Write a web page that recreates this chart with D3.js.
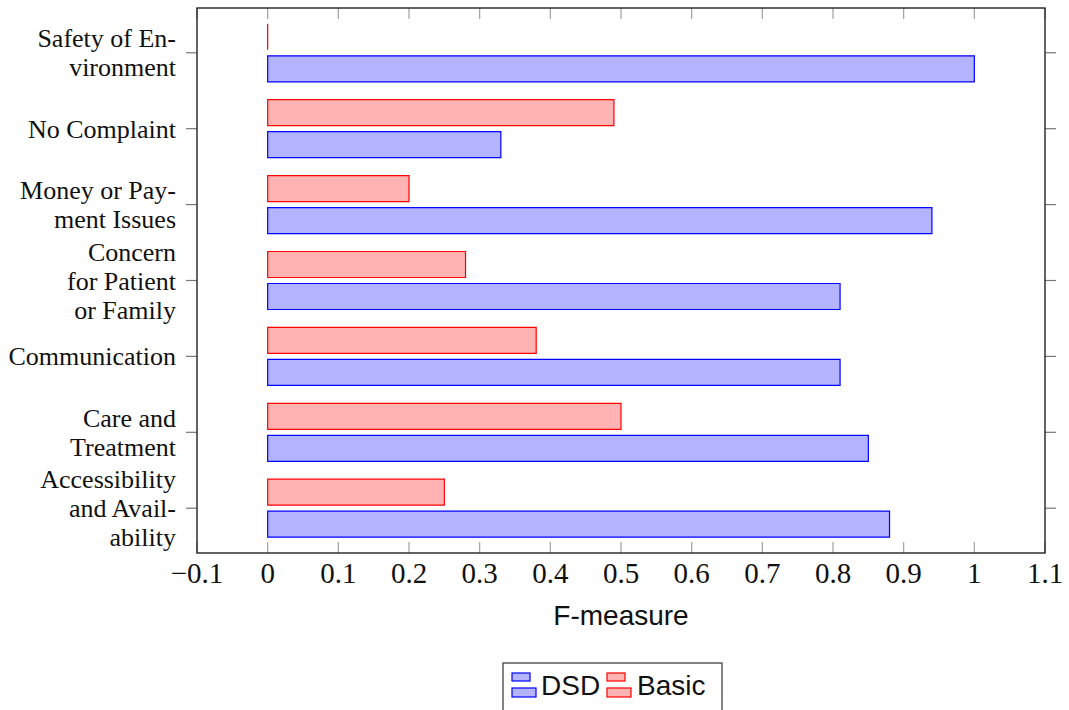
<!DOCTYPE html>
<html>
<head>
<meta charset="utf-8">
<script src="https://cdn.jsdelivr.net/npm/d3@7/dist/d3.min.js"></script>
<style>
  html, body { margin: 0; padding: 0; background: #fff; }
  svg { display: block; }
</style>
</head>
<body>
<svg id="chart" width="1069" height="710"></svg>
<script>
// Categories (top to bottom), each split into lines for the tick labels
const categories = [
  "Safety of Environment",
  "No Complaint",
  "Money or Payment Issues",
  "Concern for Patient or Family",
  "Communication",
  "Care and Treatment",
  "Accessibility and Availability"
];
const categoryLines = [
  ["Safety of En-", "vironment"],
  ["No Complaint"],
  ["Money or Pay-", "ment Issues"],
  ["Concern", "for Patient", "or Family"],
  ["Communication"],
  ["Care and", "Treatment"],
  ["Accessibility", "and Avail-", "ability"]
];
const dsdValues   = [1.00, 0.33, 0.94, 0.81, 0.81, 0.85, 0.88];
const basicValues = [0.00, 0.49, 0.20, 0.28, 0.38, 0.50, 0.25];
const xTicks = [-0.1, 0, 0.1, 0.2, 0.3, 0.4, 0.5, 0.6, 0.7, 0.8, 0.9, 1, 1.1];
const seriesNames = ["DSD", "Basic"];

const svg = d3.select("#chart");
const plot = { left: 197, right: 1045, top: 8, bottom: 553 };

const x = d3.scaleLinear().domain([-0.1, 1.1]).range([plot.left, plot.right]);
const y = d3.scalePoint().domain(categories).range([plot.top, plot.bottom]).padding(0.59);

const blueFill = "#b3b3ff", blueStroke = "#0000ff";
const redFill = "#ffb3b3", redStroke = "#ff0000";
const barH = 26, barGap = 3;

// Bars as closed paths so that a zero value still shows its outline
function barPath(v, top) {
  const p = d3.path();
  const x0 = x(0), x1 = x(v);
  p.moveTo(x0, top);
  p.lineTo(x1, top);
  p.lineTo(x1, top + barH);
  p.lineTo(x0, top + barH);
  p.closePath();
  return p.toString();
}

// Basic sits above each category tick, DSD below it
const g = svg.append("g");
g.selectAll("path.basic").data(categories).join("path")
  .attr("class", "basic")
  .attr("d", (d, i) => barPath(basicValues[i], y(d) - barGap - barH))
  .attr("fill", redFill)
  .attr("stroke", redStroke)
  .attr("stroke-width", 1.2);

g.selectAll("path.dsd").data(categories).join("path")
  .attr("class", "dsd")
  .attr("d", (d, i) => barPath(dsdValues[i], y(d) + barGap))
  .attr("fill", blueFill)
  .attr("stroke", blueStroke)
  .attr("stroke-width", 1.2);

// X ticks: inside the frame at top and bottom
const tickColor = "#a0a0a0";
const xt = svg.append("g");
xTicks.forEach(t => {
  xt.append("line").attr("x1", x(t)).attr("x2", x(t))
    .attr("y1", plot.bottom).attr("y2", plot.bottom - 11)
    .attr("stroke", tickColor).attr("stroke-width", 1.2);
  xt.append("line").attr("x1", x(t)).attr("x2", x(t))
    .attr("y1", plot.top).attr("y2", plot.top + 11)
    .attr("stroke", tickColor).attr("stroke-width", 1.2);
});
const fmt = t => (t < 0 ? "\u2212" : "") + String(Math.abs(t));
xt.selectAll("text").data(xTicks).join("text")
  .attr("x", d => x(d))
  .attr("y", 583)
  .attr("text-anchor", "middle")
  .attr("font-family", "'Liberation Serif', 'Times New Roman', serif")
  .attr("font-size", 29)
  .attr("fill", "#111")
  .text(fmt);

// Y ticks: outside the frame at left and right
const yt = svg.append("g");
categories.forEach(c => {
  yt.append("line").attr("x1", plot.left - 11).attr("x2", plot.left)
    .attr("y1", y(c)).attr("y2", y(c)).attr("stroke", "#777").attr("stroke-width", 1.2);
  yt.append("line").attr("x1", plot.right).attr("x2", plot.right + 11)
    .attr("y1", y(c)).attr("y2", y(c)).attr("stroke", "#777").attr("stroke-width", 1.2);
});

const lineH = 29;
categories.forEach((c, i) => {
  const lines = categoryLines[i];
  const t = yt.append("text")
    .attr("text-anchor", "end")
    .attr("font-family", "'Liberation Serif', 'Times New Roman', serif")
    .attr("font-size", 26)
    .attr("fill", "#111");
  lines.forEach((ln, k) => {
    t.append("tspan")
      .attr("x", 176)
      .attr("y", y(c) + (k - (lines.length - 1) / 2) * lineH + 9)
      .text(ln);
  });
});

// Frame
svg.append("rect")
  .attr("x", plot.left).attr("y", plot.top)
  .attr("width", plot.right - plot.left).attr("height", plot.bottom - plot.top)
  .attr("fill", "none").attr("stroke", "#222").attr("stroke-width", 1.4);

// Axis title
svg.append("text")
  .attr("x", (plot.left + plot.right) / 2)
  .attr("y", 625)
  .attr("text-anchor", "middle")
  .attr("font-family", "'Liberation Sans', Arial, sans-serif")
  .attr("font-size", 28)
  .attr("fill", "#111")
  .text("F-measure");

// Legend
const legend = svg.append("g");
legend.append("rect")
  .attr("x", 503).attr("y", 663).attr("width", 219).attr("height", 52)
  .attr("fill", "#fff").attr("stroke", "#333").attr("stroke-width", 1.2);
const legendItems = [
  { name: seriesNames[0], fill: blueFill, stroke: blueStroke, x: 512, tx: 541 },
  { name: seriesNames[1], fill: redFill, stroke: redStroke, x: 607, tx: 637 }
];
legendItems.forEach(it => {
  legend.append("rect").attr("x", it.x).attr("y", 673).attr("width", 18).attr("height", 8)
    .attr("fill", it.fill).attr("stroke", it.stroke).attr("stroke-width", 1.2);
  legend.append("rect").attr("x", it.x).attr("y", 688).attr("width", 24).attr("height", 9)
    .attr("fill", it.fill).attr("stroke", it.stroke).attr("stroke-width", 1.2);
  legend.append("text")
    .attr("x", it.tx).attr("y", 695)
    .attr("font-family", "'Liberation Sans', Arial, sans-serif")
    .attr("font-size", 28)
    .attr("fill", "#111")
    .text(it.name);
});
</script>
</body>
</html>
